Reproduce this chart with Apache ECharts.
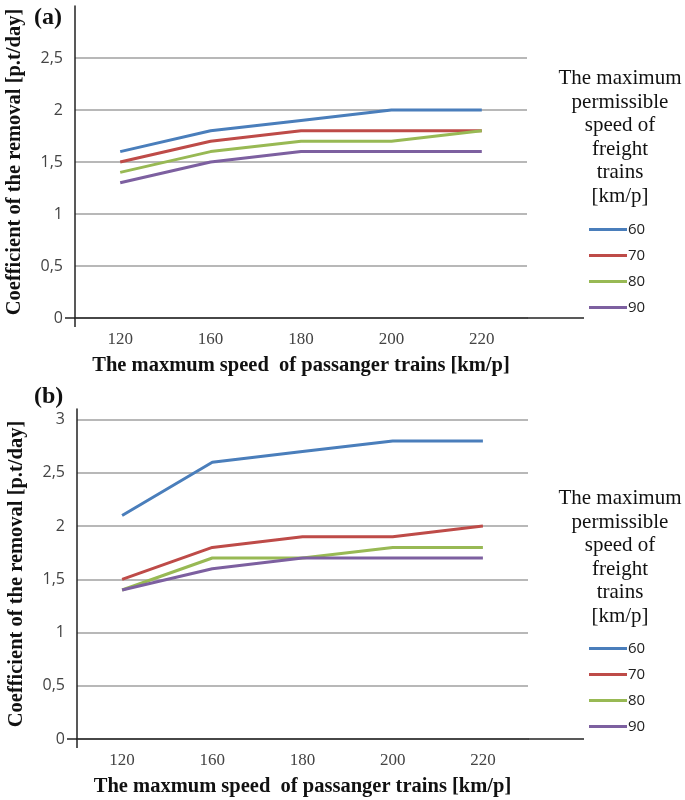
<!DOCTYPE html>
<html>
<head>
<meta charset="utf-8">
<script src="https://cdn.jsdelivr.net/npm/echarts@6/dist/echarts.min.js"></script>
<style>
  html, body { margin: 0; padding: 0; background: #fff; }
  #chart { width: 685px; height: 800px; }
</style>
</head>
<body>
<div id="chart"></div>
<script>
// passenger train speeds on the x axis
var speeds = ['120', '160', '180', '200', '220'];
// freight speeds (legend)
var freight = ['60', '70', '80', '90'];
var colors = ['#4A7EBB', '#BE4B48', '#98B954', '#7D60A0'];

// panel (a)
var a60 = [1.6, 1.8, 1.9, 2.0, 2.0];
var a70 = [1.5, 1.7, 1.8, 1.8, 1.8];
var a80 = [1.4, 1.6, 1.7, 1.7, 1.8];
var a90 = [1.3, 1.5, 1.6, 1.6, 1.6];

// panel (b)
var b60 = [2.1, 2.6, 2.7, 2.8, 2.8];
var b70 = [1.5, 1.8, 1.9, 1.9, 2.0];
var b80 = [1.4, 1.7, 1.7, 1.8, 1.8];
var b90 = [1.4, 1.6, 1.7, 1.7, 1.7];

var xTitle = 'The maxmum speed  of passanger trains [km/p]';
var yTitle = 'Coefficient of the removal [p.t/day]';
var legendTitle = 'The maximum\npermissible\nspeed of\nfreight\ntrains\n[km/p]';

var serif = '"Liberation Serif", "DejaVu Serif", serif';
var sans = '"Open Sans", "Liberation Sans", sans-serif';

var grids = [
  { left: 75, top: 6, width: 452, height: 312, outerBoundsMode: 'none' },
  { left: 77, top: 409, width: 451, height: 330, outerBoundsMode: 'none' }
];

function makeX(idx) {
  return {
    type: 'category',
    gridIndex: idx,
    data: speeds,
    boundaryGap: true,
    axisLine: { lineStyle: { color: '#222', width: 1.5 } },
    axisTick: { alignWithLabel: true, length: 6, lineStyle: { color: '#222', width: 1.2 } },
    axisLabel: { color: '#444', fontFamily: serif, fontSize: 17, margin: 13 },
    name: xTitle,
    nameLocation: 'middle',
    nameGap: 37,
    nameTextStyle: { color: '#111', fontFamily: serif, fontWeight: 'bold', fontSize: 20.5 }
  };
}

function makeY(idx, max) {
  return {
    type: 'value',
    gridIndex: idx,
    min: 0,
    max: max,
    interval: 0.5,
    axisLine: { show: true, lineStyle: { color: '#222', width: 1.5 } },
    axisTick: { show: false },
    axisLabel: {
      color: '#444', fontFamily: sans, fontSize: 16, margin: 12, showMaxLabel: false,
      formatter: function (v) { return String(v).replace('.', ','); }
    },
    splitLine: { showMaxLine: false, lineStyle: { color: '#a0a0a0', width: 1.5 } },
    name: yTitle,
    nameLocation: 'middle',
    nameGap: 50,
    nameTextStyle: { color: '#111', fontFamily: serif, fontWeight: 'bold', fontSize: 20.5 }
  };
}

function line(name, data, color, idx) {
  return {
    name: name,
    type: 'line',
    xAxisIndex: idx,
    yAxisIndex: idx,
    data: data,
    symbol: 'none',
    lineStyle: { color: color, width: 3 },
    itemStyle: { color: color }
  };
}

function makeLegend(top) {
  return {
    data: freight,
    orient: 'vertical',
    left: 584,
    top: top,
    icon: 'rect',
    itemWidth: 38,
    itemHeight: 3,
    itemGap: 11,
    textStyle: { color: '#222', fontFamily: sans, fontSize: 15, padding: [0, 0, 0, -4] }
  };
}

var chart = echarts.init(document.getElementById('chart'));

var series = [];
[a60, a70, a80, a90].forEach(function (d, i) { series.push(line(freight[i], d, colors[i], 0)); });
[b60, b70, b80, b90].forEach(function (d, i) { series.push(line(freight[i], d, colors[i], 1)); });

// axis lines run a bit past the plot area in the original figure
function axisExtras(g) {
  var x0 = g.left, x1 = g.left + g.width, yb = g.top + g.height;
  var st = { stroke: '#222', lineWidth: 1.5 };
  return [
    { type: 'line', shape: { x1: x1, y1: yb, x2: 584, y2: yb }, style: st },
    { type: 'line', shape: { x1: x0 - 10, y1: yb, x2: x0, y2: yb }, style: st },
    { type: 'line', shape: { x1: x0, y1: yb, x2: x0, y2: yb + 9 }, style: st }
  ];
}

var titleFont = { fontFamily: serif, fontWeight: 'bold', fontSize: 24, color: '#111' };
var legendTitleFont = { fontFamily: serif, fontWeight: 'normal', fontSize: 21, lineHeight: 23.5, color: '#111' };

chart.setOption({
  animation: false,
  grid: grids,
  xAxis: [makeX(0), makeX(1)],
  yAxis: [makeY(0, 3), makeY(1, 3.1)],
  title: [
    { text: '(a)', left: 29, top: 1, textStyle: titleFont },
    { text: '(b)', left: 29, top: 380, textStyle: titleFont },
    { text: legendTitle, left: 615, top: 62, textAlign: 'center', textStyle: legendTitleFont },
    { text: legendTitle, left: 615, top: 482, textAlign: 'center', textStyle: legendTitleFont }
  ],
  legend: [makeLegend(217), makeLegend(636)],
  graphic: axisExtras(grids[0]).concat(axisExtras(grids[1])),
  series: series
});
</script>
</body>
</html>
